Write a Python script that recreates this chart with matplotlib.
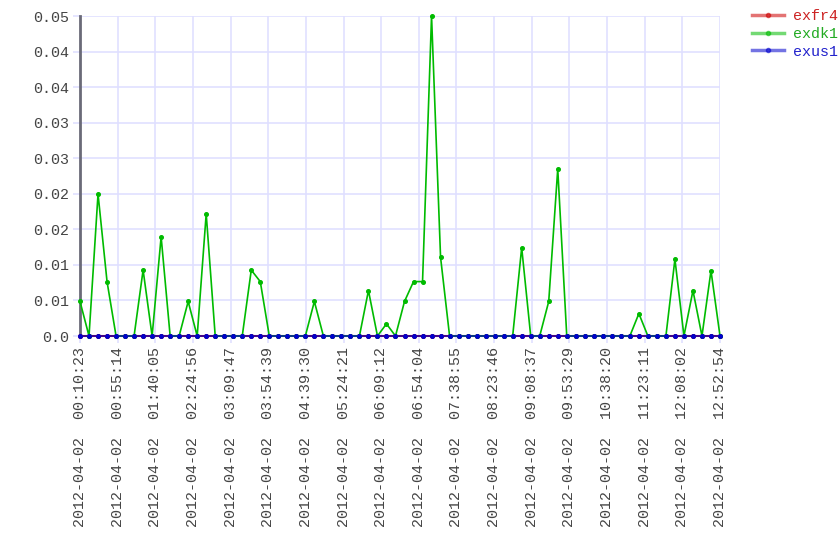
import matplotlib
matplotlib.use("Agg")
import matplotlib.pyplot as plt
import numpy as np

# ---- data ----
series_names = ["exfr4", "exdk1", "exus1"]
exfr4 = [0.0] * 72
exdk1 = [
    0.0054, 0.0, 0.0222, 0.0085, 0.0, 0.0, 0.0, 0.0103, 0.0, 0.0155,
    0.0, 0.0, 0.0054, 0.0, 0.0191, 0.0, 0.0, 0.0, 0.0, 0.0103,
    0.0085, 0.0, 0.0, 0.0, 0.0, 0.0, 0.0054, 0.0, 0.0, 0.0,
    0.0, 0.0, 0.0071, 0.0, 0.0019, 0.0, 0.0054, 0.0085, 0.0085, 0.0500,
    0.0123, 0.0, 0.0, 0.0, 0.0, 0.0, 0.0, 0.0, 0.0, 0.0138,
    0.0, 0.0, 0.0054, 0.0261, 0.0, 0.0, 0.0, 0.0, 0.0, 0.0,
    0.0, 0.0, 0.0035, 0.0, 0.0, 0.0, 0.0120, 0.0, 0.0071, 0.0,
    0.0102, 0.0,
]
exus1 = [0.0] * 72

x_tick_labels = [
    "2012-04-02  00:10:23", "2012-04-02  00:55:14", "2012-04-02  01:40:05",
    "2012-04-02  02:24:56", "2012-04-02  03:09:47", "2012-04-02  03:54:39",
    "2012-04-02  04:39:30", "2012-04-02  05:24:21", "2012-04-02  06:09:12",
    "2012-04-02  06:54:04", "2012-04-02  07:38:55", "2012-04-02  08:23:46",
    "2012-04-02  09:08:37", "2012-04-02  09:53:29", "2012-04-02  10:38:20",
    "2012-04-02  11:23:11", "2012-04-02  12:08:02", "2012-04-02  12:52:54",
]
y_tick_values = [0.0, 0.05 / 9, 0.1 / 9, 0.15 / 9, 0.2 / 9, 0.25 / 9, 0.3 / 9, 0.35 / 9, 0.4 / 9, 0.05]
y_tick_labels = ["0.0", "0.01", "0.01", "0.02", "0.02", "0.03", "0.03", "0.04", "0.04", "0.05"]

line_colors = ["#cc0000", "#00bb00", "#0000cc"]
text_colors = ["#cc2222", "#22aa22", "#2222cc"]

plt.rcParams["font.family"] = ["Liberation Mono", "DejaVu Sans Mono"]

fig = plt.figure(figsize=(8.4, 5.6), dpi=100)
ax = fig.add_axes([80 / 840, 1 - 336 / 560, 640 / 840, 320 / 560])

n = len(exdk1)
xs = np.arange(n)
handles = []
for name, vals, col, a in zip(series_names, [exfr4, exdk1, exus1], line_colors, [1.0, 1.0, 0.75]):
    ax.plot(xs, vals, color=col, lw=1.2, alpha=a, zorder=3, clip_on=False)
    ax.plot(xs, vals, ls="none", marker="o", ms=2.6, mec=col, mfc=col, zorder=4, clip_on=False)
    h, = ax.plot([], [], color=col, lw=2.5, alpha=0.55, marker="o", ms=3, mfc=col, mec=col)
    handles.append(h)

ax.set_xlim(0, n - 1)
ax.set_ylim(0, 0.05)

ax.set_xticks(np.linspace(0, n - 1, len(x_tick_labels)))
ax.set_xticklabels(x_tick_labels, rotation=90, fontsize=10.8, color="#444444", va="top", ha="center")
ax.set_yticks(y_tick_values)
ax.set_yticklabels(y_tick_labels, fontsize=10.8, color="#444444")

ax.grid(True, color="#e0e0ff", lw=1.2, zorder=0)
ax.set_axisbelow(True)
ax.tick_params(axis="both", length=5, width=1.2, color="#e0e0ff", pad=3)

for s in ["top", "right"]:
    ax.spines[s].set_visible(False)
ax.spines["left"].set_color("#6a6a78")
ax.spines["left"].set_linewidth(2)
ax.spines["bottom"].set_color("#6a6a78")
ax.spines["bottom"].set_linewidth(1.5)

leg = fig.legend(handles, series_names, loc="upper left", bbox_to_anchor=(752 / 840, 1 - 9 / 560),
                 frameon=False, fontsize=10.8, handlelength=2.1, handletextpad=0.65,
                 labelspacing=0.25, borderpad=0, borderaxespad=0, labelcolor=text_colors)

fig.savefig("out.png", dpi=100)
